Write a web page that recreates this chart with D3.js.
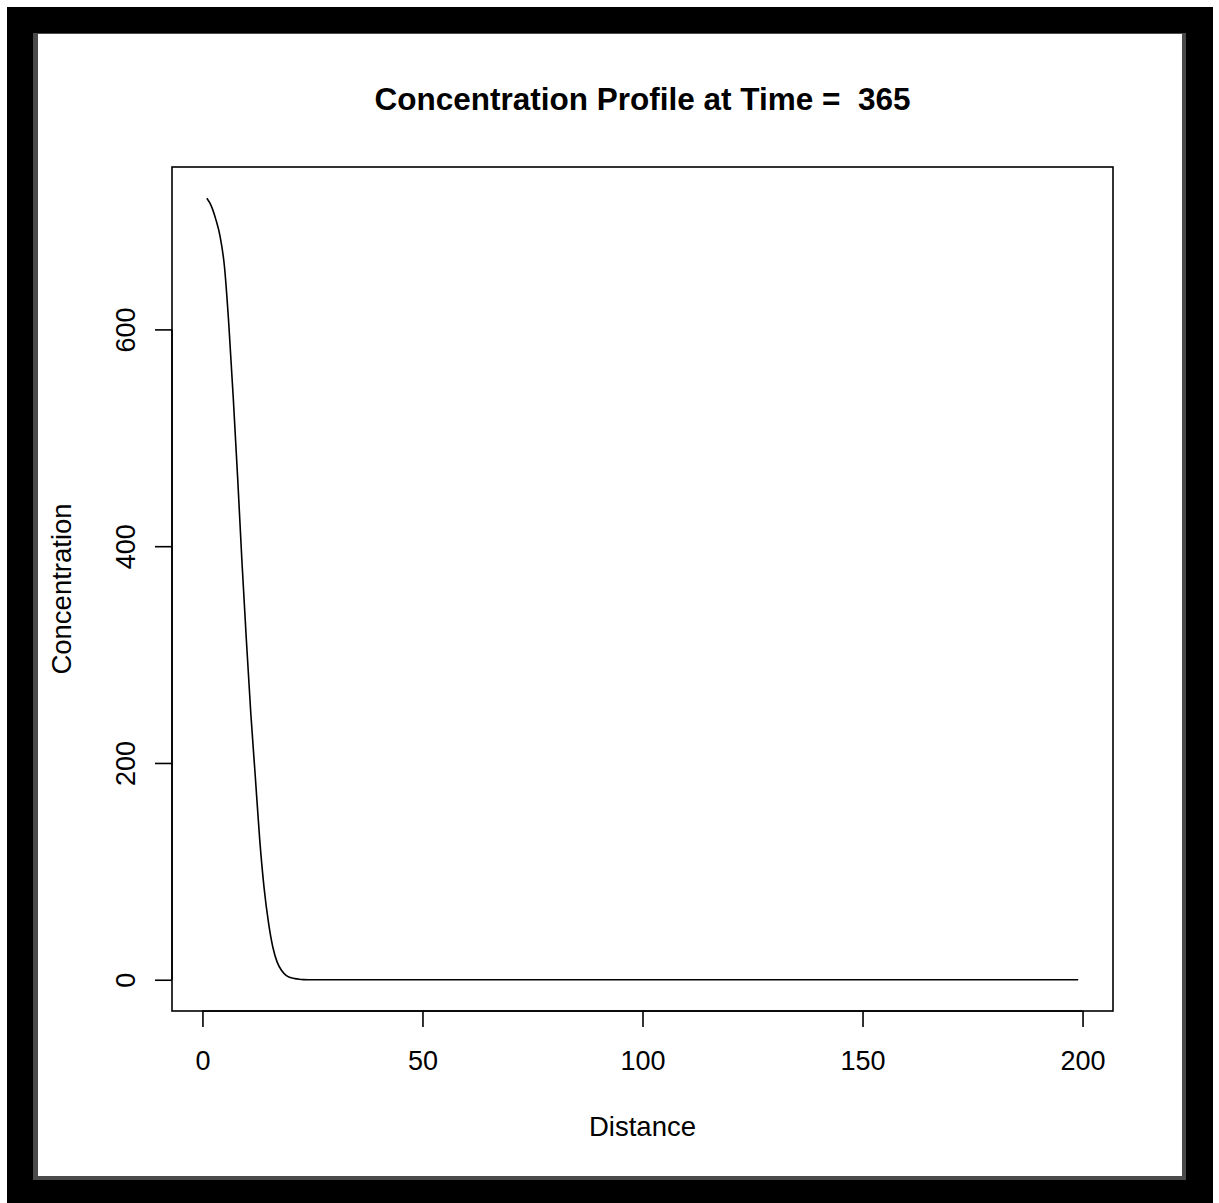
<!DOCTYPE html>
<html>
<head>
<meta charset="utf-8">
<script src="https://cdn.jsdelivr.net/npm/d3@7"></script>
<style>
  body { margin: 0; background: #fff; }
  text { font-family: "Liberation Sans", Arial, sans-serif; fill: #000; }
</style>
</head>
<body>
<div id="chart"></div>
<script>
// values
var distance = [1, 2, 3, 4, 5, 6, 7, 8, 9, 10, 11, 12, 13, 14, 15, 16, 17, 18, 19, 20, 21, 22, 23, 24, 25, 199];
var concentration = [721, 714, 702, 686, 658, 604, 537, 463, 384, 312, 245, 188, 130, 85, 53, 30, 16, 8.5, 4, 2, 1, 0.4, 0.1, 0, 0, 0];
var xTicks = [0, 50, 100, 150, 200];
var yTicks = [0, 200, 400, 600];
var title = "Concentration Profile at Time =  365";
var xLabel = "Distance";
var yLabel = "Concentration";

var width = 1219, height = 1203;
var box = {left: 172, right: 1113, top: 167, bottom: 1011};

var svg = d3.select('#chart').append('svg')
    .attr('width', width)
    .attr('height', height);

// frame around the picture
svg.append('rect').attr('x', 7).attr('y', 7).attr('width', 1206).attr('height', 1196).attr('fill', '#000');
svg.append('rect').attr('x', 33).attr('y', 33).attr('width', 1153).attr('height', 1147).attr('fill', '#4a4a4a');
svg.append('rect').attr('x', 38).attr('y', 34).attr('width', 1144).attr('height', 1142).attr('fill', '#fff');

// R style 4% padding on the data range
var xr = d3.extent(distance), yr = d3.extent(concentration);
var xp = (xr[1] - xr[0]) * 0.04, yp = (yr[1] - yr[0]) * 0.04;
var x = d3.scaleLinear().domain([xr[0] - xp, xr[1] + xp]).range([box.left, box.right]);
var y = d3.scaleLinear().domain([yr[0] - yp, yr[1] + yp]).range([box.bottom, box.top]);

var line = d3.line()
    .x(function(d, i) { return x(distance[i]); })
    .y(function(d) { return y(d); })
    .curve(d3.curveMonotoneX);

svg.append('path')
    .datum(concentration)
    .attr('fill', 'none')
    .attr('stroke', '#000')
    .attr('stroke-width', 1.6)
    .attr('d', line);

svg.append('rect')
    .attr('x', box.left).attr('y', box.top)
    .attr('width', box.right - box.left).attr('height', box.bottom - box.top)
    .attr('fill', 'none').attr('stroke', '#000').attr('stroke-width', 1.6);

// x axis
var xAxis = svg.append('g')
    .attr('transform', 'translate(0,' + box.bottom + ')')
    .call(d3.axisBottom(x).tickValues(xTicks).tickSize(16).tickSizeOuter(0));
xAxis.select('.domain')
    .attr('d', 'M' + x(xTicks[0]) + ',0H' + x(xTicks[xTicks.length - 1]));
xAxis.selectAll('line').attr('stroke-width', 1.6);
xAxis.selectAll('.domain').attr('stroke-width', 1.6);
xAxis.selectAll('text').attr('font-size', 27).attr('dy', 0).attr('y', 59);

// y axis, labels turned like R does
var yAxis = svg.append('g')
    .attr('transform', 'translate(' + box.left + ',0)')
    .call(d3.axisLeft(y).tickValues(yTicks).tickSize(17).tickSizeOuter(0));
yAxis.select('.domain')
    .attr('d', 'M0,' + y(yTicks[0]) + 'V' + y(yTicks[yTicks.length - 1]));
yAxis.selectAll('line').attr('stroke-width', 1.6);
yAxis.selectAll('.domain').attr('stroke-width', 1.6);
yAxis.selectAll('text')
    .attr('font-size', 27)
    .attr('x', null).attr('dy', null)
    .attr('text-anchor', 'middle')
    .attr('transform', 'translate(-37,0) rotate(-90)');

svg.append('text')
    .attr('x', (box.left + box.right) / 2).attr('y', 110)
    .attr('text-anchor', 'middle')
    .attr('font-size', 31.5).attr('font-weight', 'bold')
    .style('white-space', 'pre')
    .text(title);

svg.append('text')
    .attr('x', (box.left + box.right) / 2).attr('y', 1136)
    .attr('text-anchor', 'middle')
    .attr('font-size', 27.5)
    .text(xLabel);

svg.append('text')
    .attr('transform', 'translate(71,' + (box.top + box.bottom) / 2 + ') rotate(-90)')
    .attr('text-anchor', 'middle')
    .attr('font-size', 27.5)
    .text(yLabel);
</script>
</body>
</html>
